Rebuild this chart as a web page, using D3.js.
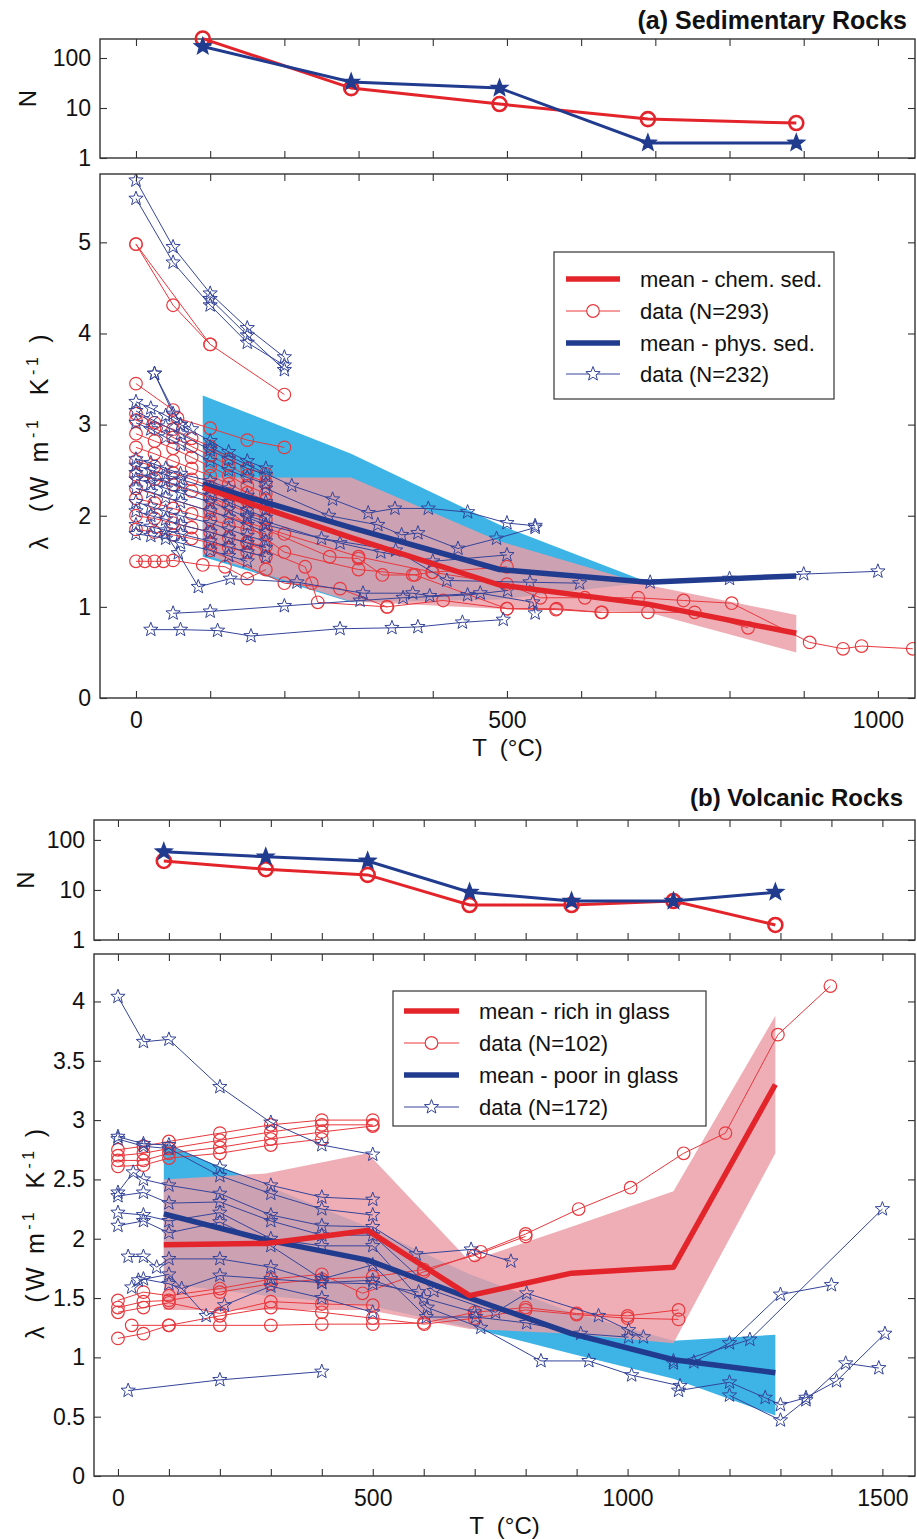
<!DOCTYPE html>
<html><head><meta charset="utf-8">
<script src="https://cdn.jsdelivr.net/npm/d3@7"></script>
<style>
body{margin:0;background:#fff}
text{font-family:"Liberation Sans",Arial,Helvetica,sans-serif;fill:#111}
</style>
</head><body>
<svg id="c" width="917" height="1539" xmlns="http://www.w3.org/2000/svg"></svg>
<script>
// ---------------- DATA: (a) Sedimentary rocks ----------------
const sedT = [90, 290, 490, 690, 890];
const sedNChem = [245, 25, 12, 6, 5];
const sedNPhys = [170, 33, 25, 2, 2];
const sedMeanChem = [2.31, 1.76, 1.24, 1.03, 0.71];
const sedUpperChem = [2.42, 2.42, 1.72, 1.24, 0.91];
const sedLowerChem = [1.58, 1.06, 0.98, 0.94, 0.50];
const sedMeanPhys = [2.35, 1.87, 1.41, 1.27, 1.34];
const sedBandT = [90, 290, 490, 690];
const sedUpperPhys = [3.32, 2.68, 1.90, 1.27];
const sedLowerPhys = [1.55, 1.05, 1.08, 1.27];

const sedChemData = [
 [[0,4.98],[50,4.31],[100,3.88],[200,3.33]],
 [[0,4.98],[100,3.88]],
 [[0,3.45],[50,3.16],[56,3.07],[100,2.96],[150,2.83],[200,2.75]],
 [[0,3.12],[25,3.02],[50,2.95],[75,2.85],[100,2.76],[125,2.62],[150,2.52],[175,2.46]],
 [[0,3.05],[25,2.96],[50,2.86],[75,2.76],[100,2.66],[125,2.55],[150,2.44],[175,2.37]],
 [[0,2.9],[25,2.82],[50,2.74],[75,2.64],[100,2.54],[125,2.44],[150,2.33],[175,2.24]],
 [[0,2.75],[25,2.68],[50,2.6],[75,2.52],[100,2.44],[125,2.35],[150,2.25],[175,2.17]],
 [[0,2.6],[25,2.54],[50,2.47],[75,2.4],[100,2.32],[125,2.24],[150,2.16],[175,2.08]],
 [[0,2.45],[25,2.4],[50,2.34],[75,2.27],[100,2.2],[125,2.12],[150,2.04],[175,1.96]],
 [[0,2.19],[25,2.14],[50,2.08],[75,2.02],[100,1.96],[125,1.9],[150,1.85],[175,1.8]],
 [[0,2.0],[25,1.97],[50,1.92],[75,1.87],[100,1.82],[125,1.76],[150,1.71],[175,1.66]],
 [[0,1.85],[25,1.82],[50,1.79],[75,1.75],[100,1.7],[125,1.65],[150,1.6],[175,1.55]],
 [[0,1.5],[12,1.5],[25,1.5],[37,1.5],[50,1.51],[90,1.46],[120,1.44],[150,1.31],[175,1.41]],
 [[0,2.3],[100,2.05],[200,1.8],[300,1.55],[400,1.38],[500,1.25],[545,1.1],[605,1.1],[677,1.1],[738,1.07],[803,1.04],[908,0.61],[953,0.54],[978,0.57],[1047,0.54]],
 [[100,2.2],[200,1.6],[300,1.41],[376,1.35],[500,0.98],[566,0.97],[627,0.94],[690,0.94],[753,0.94],[825,0.77]],
 [[100,1.62],[200,1.26],[275,1.2],[338,1.0],[414,1.07],[500,0.98],[567,0.98],[628,0.94]],
 [[175,1.85],[261,1.55],[300,1.53],[332,1.35],[373,1.35],[399,1.38],[500,1.44]],
 [[150,1.7],[228,1.44],[237,1.26],[245,1.05],[339,1.0]]
];
const sedPhysData = [
 [[0,5.68],[50,4.95],[100,4.44],[150,4.06],[200,3.74]],
 [[0,5.48],[50,4.78],[100,4.31],[150,3.9],[200,3.65]],
 [[100,4.38],[150,3.98],[200,3.6]],
 [[25,3.56],[50,3.12],[75,2.95]],
 [[25,3.56],[60,3.0]],
 [[0,3.25],[20,3.18],[40,3.1],[60,3.0],[100,2.82],[125,2.7],[150,2.6],[175,2.52]],
 [[0,3.15],[20,3.06],[40,2.98],[60,2.9],[100,2.72],[125,2.62],[150,2.52],[175,2.45]],
 [[0,3.02],[20,2.95],[40,2.86],[60,2.78],[100,2.6],[125,2.5],[150,2.42],[175,2.35]],
 [[0,2.62],[20,2.58],[40,2.52],[60,2.46],[100,2.38],[125,2.3],[150,2.22],[175,2.15]],
 [[0,2.55],[20,2.5],[40,2.45],[60,2.4],[100,2.3],[125,2.22],[150,2.15],[175,2.06]],
 [[0,2.47],[20,2.42],[40,2.38],[60,2.32],[100,2.22],[125,2.15],[150,2.06],[175,1.98]],
 [[0,2.4],[20,2.36],[40,2.3],[60,2.25],[100,2.15],[125,2.07],[150,1.98],[175,1.9]],
 [[0,2.3],[20,2.26],[40,2.2],[60,2.15],[100,2.05],[125,1.98],[150,1.9],[175,1.82]],
 [[0,2.15],[20,2.1],[40,2.05],[60,2.0],[100,1.92],[125,1.85],[150,1.78],[175,1.72]],
 [[0,2.05],[20,2.0],[40,1.96],[60,1.9],[100,1.82],[125,1.76],[150,1.7],[175,1.65]],
 [[0,1.9],[20,1.88],[40,1.84],[60,1.8],[100,1.72],[125,1.66],[150,1.6],[175,1.55]],
 [[0,1.8],[20,1.78],[40,1.75],[60,1.7],[100,1.62],[125,1.56],[150,1.5]],
 [[40,1.8],[57,1.59],[84,1.22],[127,1.31],[217,1.27],[306,1.15],[373,1.15],[396,1.12],[464,1.15],[535,1.05],[538,0.93]],
 [[20,0.75],[60,0.75],[110,0.74],[155,0.68],[275,0.76],[345,0.77],[380,0.78],[440,0.83],[495,0.86]],
 [[50,0.93],[100,0.95],[200,1.01],[302,1.07],[360,1.1],[447,1.13],[501,1.18]],
 [[100,2.75],[210,2.33],[265,2.18],[313,2.03],[349,2.08],[394,2.08],[447,2.04],[500,1.92],[538,1.89]],
 [[175,2.3],[260,2.0],[326,1.9],[358,1.79],[380,1.81],[434,1.64],[486,1.75],[538,1.87]],
 [[150,2.0],[250,1.75],[350,1.62],[419,1.29],[531,1.27],[598,1.26]],
 [[175,1.9],[275,1.7],[330,1.6],[400,1.5],[500,1.57]],
 [[693,1.27],[800,1.31],[900,1.36],[1000,1.39]]
];

// ---------------- DATA: (b) Volcanic rocks ----------------
const volT = [90, 290, 490, 690, 890, 1090, 1290];
const volNRich = [38, 26, 20, 5, 5, 6, 2];
const volNPoor = [58, 46, 38, 9, 6, 6, 9];
const volMeanRich = [1.95, 1.96, 2.07, 1.52, 1.71, 1.76, 3.30];
const volUpperRich = [2.50, 2.55, 2.72, 1.81, 2.10, 2.40, 3.88];
const volLowerRich = [1.40, 1.40, 1.40, 1.24, 1.20, 1.12, 2.72];
const volMeanPoor = [2.21, 1.99, 1.82, 1.50, 1.20, 0.98, 0.87];
const volUpperPoor = [2.80, 2.45, 2.10, 1.70, 1.38, 1.14, 1.19];
const volLowerPoor = [1.62, 1.52, 1.44, 1.25, 1.03, 0.82, 0.51];

const volRichData = [
 [[0,2.75],[50,2.78],[100,2.82],[200,2.89],[300,2.96],[400,3.0],[500,3.0]],
 [[0,2.7],[50,2.72],[100,2.76],[200,2.83],[300,2.9],[400,2.96],[500,2.96]],
 [[0,2.66],[50,2.66],[100,2.72],[200,2.77],[300,2.84],[400,2.9],[500,2.95]],
 [[0,2.61],[50,2.62],[100,2.68],[200,2.72],[300,2.79],[400,2.84]],
 [[0,1.48],[50,1.55],[100,1.52],[200,1.58],[300,1.66],[400,1.7],[480,1.54],[600,1.72],[712,1.89],[800,2.04],[904,2.25],[1006,2.43],[1110,2.72],[1192,2.89],[1295,3.72],[1398,4.13]],
 [[0,1.42],[50,1.47],[100,1.48],[200,1.55],[300,1.62],[400,1.66],[500,1.68],[600,1.74],[700,1.86],[800,2.02]],
 [[0,1.38],[50,1.42],[100,1.46],[200,1.37],[300,1.47],[400,1.45],[500,1.44]],
 [[27,1.27],[100,1.27],[200,1.27],[300,1.27],[400,1.28],[500,1.28],[600,1.29],[700,1.38],[800,1.42],[900,1.37],[1000,1.35],[1100,1.40]],
 [[0,1.16],[50,1.2],[100,1.27],[200,1.35],[300,1.42],[400,1.38],[500,1.33],[601,1.28],[700,1.33],[800,1.40],[900,1.36],[1000,1.33],[1100,1.32]]
];
const volPoorData = [
 [[0,4.04],[50,3.66],[100,3.68],[200,3.28],[300,2.98],[400,2.79],[500,2.71]],
 [[0,2.86],[50,2.8],[100,2.79],[200,2.6],[300,2.45],[400,2.35],[500,2.33]],
 [[0,2.84],[50,2.78],[100,2.76],[200,2.53],[300,2.38],[400,2.25],[500,2.2]],
 [[0,2.39],[30,2.56],[50,2.5],[100,2.45],[200,2.38],[300,2.2],[400,2.11],[500,2.1],[585,1.87],[693,1.91],[771,1.81]],
 [[0,2.36],[50,2.39],[100,2.3],[200,2.31],[300,2.15],[400,2.03],[500,2.03],[620,1.56],[741,1.38],[802,1.54],[943,1.35],[1002,1.23],[1031,1.17]],
 [[0,2.22],[50,2.2],[100,2.15],[200,2.22],[300,2.0],[400,1.94],[500,1.94],[607,1.42],[712,1.25],[830,0.97],[924,0.97],[1008,0.85],[1103,0.76]],
 [[0,2.11],[50,2.15],[100,2.05],[200,2.14],[300,1.94],[400,1.66],[500,1.78],[605,1.34],[702,1.34],[802,1.29],[908,1.2],[1002,1.17]],
 [[20,1.85],[50,1.85],[76,1.76],[100,1.83],[200,1.83],[300,1.76],[400,1.63],[500,1.65],[600,1.5],[700,1.38]],
 [[27,1.59],[50,1.66],[100,1.62],[125,1.58],[200,1.69],[300,1.66],[400,1.63],[500,1.62],[590,1.55]],
 [[40,1.65],[100,1.7],[173,1.35],[209,1.44],[300,1.6],[400,1.5],[500,1.38]],
 [[20,0.72],[200,0.81],[400,0.88]],
 [[1090,0.97],[1130,0.96],[1200,1.12],[1300,1.53],[1400,1.61]],
 [[1090,0.95],[1240,1.15],[1500,2.25]],
 [[1100,0.72],[1200,0.79],[1270,0.66],[1300,0.6],[1350,0.66],[1410,0.8],[1505,1.2]],
 [[1200,0.68],[1300,0.47],[1350,0.64],[1428,0.95],[1493,0.91]]
];

// tick label arrays
const sedXTicks = d3.range(0, 1001, 100), sedXLabels = [0, 500, 1000];
const sedYTicks = [0, 1, 2, 3, 4, 5];
const volXTicks = d3.range(0, 1501, 100), volXLabels = [0, 500, 1000, 1500];
const volYTicks = [0, 0.5, 1, 1.5, 2, 2.5, 3, 3.5, 4];
const nTicks = [1, 10, 100];

// ---------------- STYLE ----------------
const RED = "#e3242b", BLUE = "#213b8f", RED_THIN = "#e8383d", BLUE_THIN = "#34449a";
const PINK = "#eb9ca6", CYAN = "#3db4e5";
const svg = d3.select("#c");

function starPath(r) {
  const p = [];
  for (let i = 0; i < 10; i++) {
    const a = -Math.PI / 2 + i * Math.PI / 5, rr = i % 2 ? r * 0.42 : r;
    p.push([(rr * Math.cos(a)).toFixed(2), (rr * Math.sin(a)).toFixed(2)]);
  }
  return "M" + p.join("L") + "Z";
}

function drawAxes(g, x, y, xt, xl, yt, yfmt, showXLabels) {
  const [x0, x1] = x.range(), [yb, yt0] = y.range();
  const fs = "23px";
  const ax = [
    g.append("g").attr("transform", `translate(0,${yb})`).call(d3.axisBottom(x).tickValues(xt).tickSize(-7).tickPadding(14).tickFormat(d => showXLabels && xl.includes(d) ? d : "")),
    g.append("g").attr("transform", `translate(0,${yt0})`).call(d3.axisTop(x).tickValues(xt).tickSize(-7).tickFormat("")),
    g.append("g").attr("transform", `translate(${x0},0)`).call(d3.axisLeft(y).tickValues(yt).tickSize(-7).tickPadding(9).tickFormat(yfmt)),
    g.append("g").attr("transform", `translate(${x1},0)`).call(d3.axisRight(y).tickValues(yt).tickSize(-7).tickFormat(""))
  ];
  ax.forEach(a => {
    a.select(".domain").remove();
    a.selectAll("line").attr("stroke", "#333").attr("stroke-width", 1.1);
    a.selectAll("text").style("font-size", fs).style("font-family", '"Liberation Sans",Arial,sans-serif').attr("fill", "#111");
  });
  g.append("rect").attr("x", x0).attr("y", yt0).attr("width", x1 - x0).attr("height", yb - yt0)
    .attr("fill", "none").attr("stroke", "#333").attr("stroke-width", 1.4);
}

function nPanel(cfg) {
  const g = svg.append("g");
  const x = d3.scaleLinear().domain(cfg.xDom).range([cfg.x0, cfg.x1]);
  const y = d3.scaleLog().domain([1, cfg.nTop]).range([cfg.yb, cfg.yt]);
  drawAxes(g, x, y, cfg.xTicks, [], nTicks, d => d, false);
  const line = d3.line().x(d => x(d[0])).y(d => y(d[1]));
  const red = cfg.T.map((t, i) => [t, cfg.nRed[i]]), blue = cfg.T.map((t, i) => [t, cfg.nBlue[i]]);
  g.append("path").attr("d", line(red)).attr("fill", "none").attr("stroke", RED).attr("stroke-width", 3);
  g.selectAll(null).data(red).join("circle").attr("cx", d => x(d[0])).attr("cy", d => y(d[1])).attr("r", 7)
    .attr("fill", "none").attr("stroke", RED).attr("stroke-width", 2.6);
  g.append("path").attr("d", line(blue)).attr("fill", "none").attr("stroke", BLUE).attr("stroke-width", 3);
  g.selectAll(null).data(blue).join("path").attr("d", starPath(8.5))
    .attr("transform", d => `translate(${x(d[0])},${y(d[1])})`).attr("fill", BLUE).attr("stroke", BLUE).attr("stroke-width", 1.5);
  g.append("text").attr("transform", `translate(${cfg.nLabelX},${(cfg.yb + cfg.yt) / 2}) rotate(-90)`)
    .attr("text-anchor", "middle").style("font-size", "24px").text("N");
  g.append("text").attr("x", cfg.titleX).attr("y", cfg.titleY).attr("text-anchor", "end")
    .style("font-size", cfg.titleSize).style("font-weight", "bold").text(cfg.title);
}

function mainPanel(cfg) {
  const g = svg.append("g");
  const x = d3.scaleLinear().domain(cfg.xDom).range([cfg.x0, cfg.x1]);
  const y = d3.scaleLinear().domain(cfg.yDom).range([cfg.yb, cfg.yt]);
  const cid = "clip" + cfg.id;
  svg.append("clipPath").attr("id", cid).append("rect")
    .attr("x", cfg.x0).attr("y", cfg.yt).attr("width", cfg.x1 - cfg.x0).attr("height", cfg.yb - cfg.yt);
  const pg = g.append("g").attr("clip-path", `url(#${cid})`);
  const area = d3.area().x(d => x(d[0])).y0(d => y(d[1])).y1(d => y(d[2]));
  const line = d3.line().x(d => x(d[0])).y(d => y(d[1]));
  // bands
  pg.append("path").attr("d", area(cfg.blueBandT.map((t, i) => [t, cfg.blueLow[i], cfg.blueUp[i]]))).attr("fill", CYAN);
  pg.append("path").attr("d", area(cfg.T.map((t, i) => [t, cfg.redLow[i], cfg.redUp[i]]))).attr("fill", PINK).attr("fill-opacity", 0.82);
  // data: red circles
  cfg.redData.forEach(s => {
    const sg = pg.append("g");
    sg.append("path").attr("d", line(s)).attr("fill", "none").attr("stroke", RED_THIN).attr("stroke-width", 1);
    sg.selectAll("circle").data(s).join("circle").attr("cx", d => x(d[0])).attr("cy", d => y(d[1])).attr("r", 6.3)
      .attr("fill", "none").attr("stroke", RED_THIN).attr("stroke-width", 1.2);
  });
  cfg.blueData.forEach(s => {
    const sg = pg.append("g");
    sg.append("path").attr("d", line(s)).attr("fill", "none").attr("stroke", BLUE_THIN).attr("stroke-width", 1);
    sg.selectAll("path.st").data(s).join("path").attr("class", "st").attr("d", starPath(7.5))
      .attr("transform", d => `translate(${x(d[0])},${y(d[1])})`)
      .attr("fill", "none").attr("stroke", BLUE_THIN).attr("stroke-width", 1);
  });
  // means
  pg.append("path").attr("d", line(cfg.T.map((t, i) => [t, cfg.blueMean[i]]))).attr("fill", "none").attr("stroke", BLUE).attr("stroke-width", 5.5).attr("stroke-linejoin", "round");
  pg.append("path").attr("d", line(cfg.T.map((t, i) => [t, cfg.redMean[i]]))).attr("fill", "none").attr("stroke", RED).attr("stroke-width", 5.5).attr("stroke-linejoin", "round");

  drawAxes(g, x, y, cfg.xTicks, cfg.xLabels, cfg.yTicks, d => String(d), true);

  // axis labels
  g.append("text").attr("x", (cfg.x0 + cfg.x1) / 2).attr("y", cfg.yb + 58).attr("text-anchor", "middle")
    .style("font-size", "24px").style("white-space", "pre").text("T  (°C)");
  const lt = g.append("text").attr("transform", `translate(${cfg.lamX},${cfg.lamY}) rotate(-90)`)
    .attr("text-anchor", "middle").style("font-size", "25px").style("white-space", "pre")
    .attr("textLength", cfg.lamLen).attr("lengthAdjust", "spacing");
  lt.append("tspan").text("λ  (W m");
  lt.append("tspan").attr("dy", -10).style("font-size", "16px").text("-1");
  lt.append("tspan").attr("dy", 10).text("  K");
  lt.append("tspan").attr("dy", -10).style("font-size", "16px").text("-1");
  lt.append("tspan").attr("dy", 10).text(" )");

  // legend
  const L = cfg.legend;
  const lg = g.append("g");
  lg.append("rect").attr("x", L.x0).attr("y", L.y0).attr("width", L.x1 - L.x0).attr("height", L.y1 - L.y0)
    .attr("fill", "#fff").attr("stroke", "#333").attr("stroke-width", 1.2);
  L.items.forEach((it, i) => {
    const ry = L.rows[i];
    lg.append("line").attr("x1", L.sx0).attr("x2", L.sx1).attr("y1", ry).attr("y2", ry)
      .attr("stroke", it.c).attr("stroke-width", it.w);
    if (it.m === "o") lg.append("circle").attr("cx", (L.sx0 + L.sx1) / 2).attr("cy", ry).attr("r", 6.3)
      .attr("fill", "#fff").attr("stroke", it.c).attr("stroke-width", 1.2);
    if (it.m === "s") lg.append("path").attr("d", starPath(7.5)).attr("transform", `translate(${(L.sx0 + L.sx1) / 2},${ry})`)
      .attr("fill", "#fff").attr("stroke", it.c).attr("stroke-width", 1);
    lg.append("text").attr("x", L.tx).attr("y", ry + 8).style("font-size", "22px").text(it.t);
  });
}

// ---------------- PANEL (a) ----------------
const sedXDom = [-48.5, 1050];
nPanel({ xDom: sedXDom, x0: 100, x1: 915, yt: 39, yb: 158, nTop: 240, xTicks: sedXTicks,
  T: sedT, nRed: sedNChem, nBlue: sedNPhys, nLabelX: 36, title: "(a) Sedimentary Rocks", titleX: 907, titleY: 29, titleSize: "25px" });
mainPanel({ id: "a", xDom: sedXDom, yDom: [0, 5.75], x0: 100, x1: 915, yt: 174, yb: 698,
  xTicks: sedXTicks, xLabels: sedXLabels, yTicks: sedYTicks,
  T: sedT, redMean: sedMeanChem, redUp: sedUpperChem, redLow: sedLowerChem,
  blueBandT: sedBandT, blueMean: sedMeanPhys, blueUp: sedUpperPhys, blueLow: sedLowerPhys,
  redData: sedChemData, blueData: sedPhysData, lamX: 48, lamY: 442, lamLen: 215,
  legend: { x0: 554, x1: 834, y0: 252, y1: 399, rows: [279, 311, 343, 374], sx0: 566, sx1: 620, tx: 640,
    items: [ { t: "mean - chem. sed.", c: RED, w: 5.5 }, { t: "data (N=293)", c: RED_THIN, w: 1, m: "o" },
             { t: "mean - phys. sed.", c: BLUE, w: 5.5 }, { t: "data (N=232)", c: BLUE_THIN, w: 1, m: "s" } ] } });

// ---------------- PANEL (b) ----------------
const volXDom = [-47, 1564];
nPanel({ xDom: volXDom, x0: 94, x1: 915, yt: 820, yb: 940, nTop: 250, xTicks: volXTicks,
  T: volT, nRed: volNRich, nBlue: volNPoor, nLabelX: 34, title: "(b) Volcanic Rocks", titleX: 903, titleY: 806, titleSize: "24px" });
mainPanel({ id: "b", xDom: volXDom, yDom: [0, 4.4], x0: 94, x1: 915, yt: 954, yb: 1476,
  xTicks: volXTicks, xLabels: volXLabels, yTicks: volYTicks,
  T: volT, redMean: volMeanRich, redUp: volUpperRich, redLow: volLowerRich,
  blueBandT: volT, blueMean: volMeanPoor, blueUp: volUpperPoor, blueLow: volLowerPoor,
  redData: volRichData, blueData: volPoorData, lamX: 44, lamY: 1234, lamLen: 210,
  legend: { x0: 393, x1: 706, y0: 991, y1: 1126, rows: [1011, 1043, 1075, 1107], sx0: 404, sx1: 459, tx: 479,
    items: [ { t: "mean - rich in glass", c: RED, w: 5.5 }, { t: "data (N=102)", c: RED_THIN, w: 1, m: "o" },
             { t: "mean - poor in glass", c: BLUE, w: 5.5 }, { t: "data (N=172)", c: BLUE_THIN, w: 1, m: "s" } ] } });
</script>
</body></html>
